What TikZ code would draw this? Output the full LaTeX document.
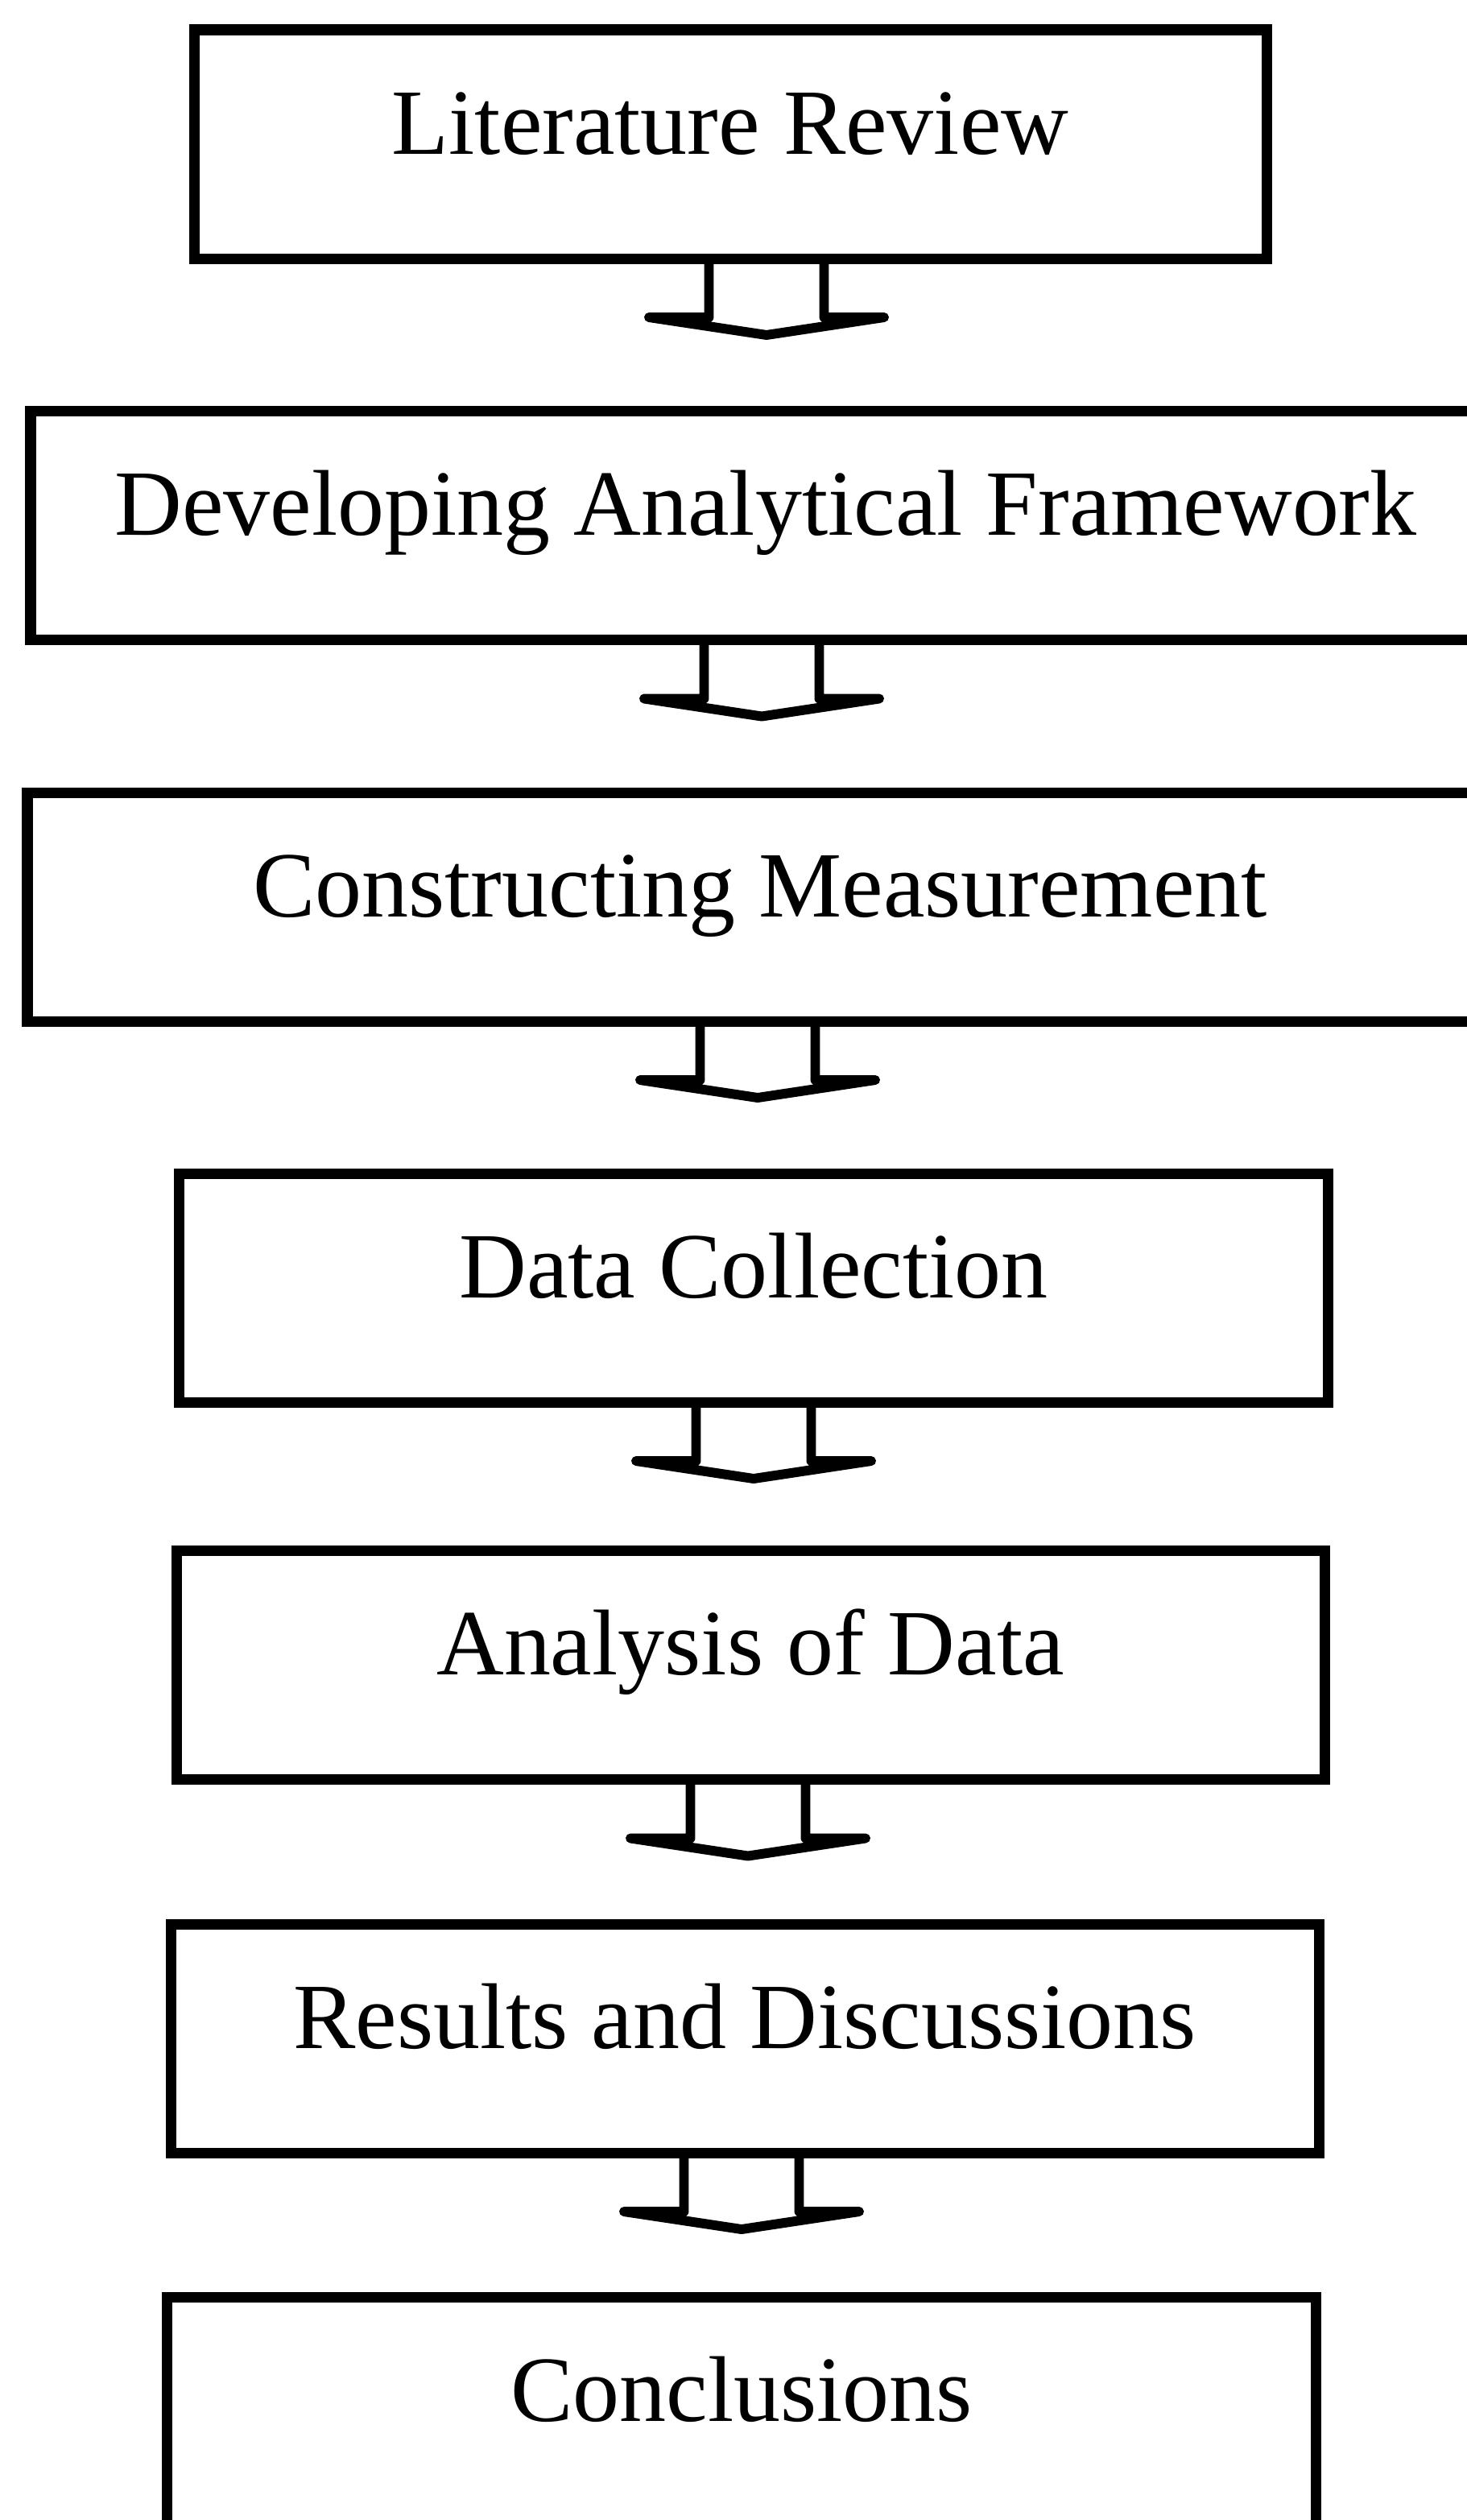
\documentclass[tikz,border=0pt]{standalone}
\usepackage{fontspec}
\setmainfont{Liberation Serif}
\usetikzlibrary{positioning}

\tikzset{
  stage/.style={draw, rectangle, line width=3.7pt, inner xsep=0pt, inner ysep=0pt, outer sep=0pt,
    text height=1.54cm, text depth=1.30cm, font=\fontsize{33}{40}\selectfont},
  flowarrow/.style={draw, line width=3.4pt, line join=round, line cap=round}
}

\begin{document}
\begin{tikzpicture}[on grid]
	\useasboundingbox (0,0) rectangle (18.21,-31.29);
	\node[stage, minimum width=13.32cm] (lit) at (9.07,-1.79) {Literature Review};
	\node[stage, minimum width=18.26cm] (frame) [below=4.735cm of lit, xshift=0.44cm] {Developing Analytical Framework};
	\node[stage, minimum width=18.20cm] (meas) [below=4.735cm of frame, xshift=-0.07cm] {Constructing Measurement};
	\node[stage, minimum width=14.27cm] (coll) [below=4.73cm of meas, xshift=-0.08cm] {Data Collection};
	\node[stage, minimum width=14.26cm] (anal) [below=4.685cm of coll, xshift=-0.04cm] {Analysis of Data};
	\node[stage, minimum width=14.26cm] (res) [below=4.635cm of anal, xshift=-0.07cm] {Results and Discussions};
	\node[stage, minimum width=14.27cm] (conc) [below=4.63cm of res, xshift=-0.04cm] {Conclusions};
	% hollow block arrows under each stage
	\foreach \up/\dx in {lit/0.45, frame/-0.05, meas/-0.03, coll/0, anal/-0.03, res/-0.04}
		\draw[flowarrow] ([xshift=\dx cm - 0.715cm]\up.south) -- ++(0,-0.73) -- ++(-0.745,0)
			-- ++(1.46,-0.22) -- ++(1.46,0.22) -- ++(-0.745,0) -- ++(0,0.73);
\end{tikzpicture}
\end{document}
